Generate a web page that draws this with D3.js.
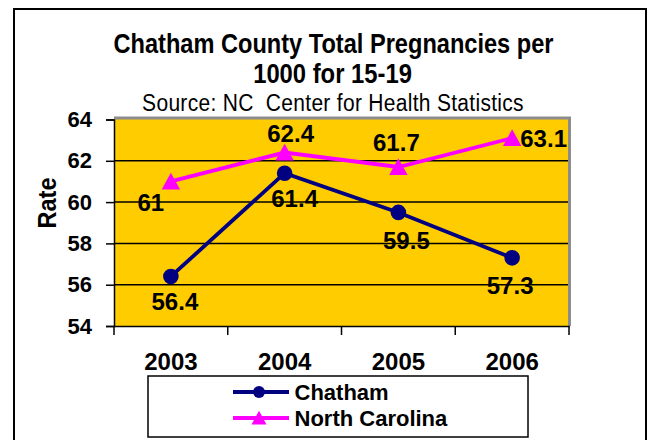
<!DOCTYPE html>
<html lang="en">
<head>
<meta charset="UTF-8">
<title>Chatham County Total Pregnancies</title>
<script src="https://cdn.jsdelivr.net/npm/d3@7"></script>
<style>
  body { margin: 0; background: #fff; }
  text { font-family: "Liberation Sans", Arial, sans-serif; }
</style>
</head>
<body>
<svg></svg>
<script>
    const years = ['2003', '2004', '2005', '2006'];
    const chatham = [56.4, 61.4, 59.5, 57.3];
    const northCarolina = [61, 62.4, 61.7, 63.1];
    const yTicks = [54, 56, 58, 60, 62, 64];

    const width = 651, height = 440;
    const plot = { left: 114, right: 569, top: 119.5, bottom: 326 };

    const svg = d3.select('svg')
        .attr('width', width)
        .attr('height', height);

    // outer chart border
    svg.append('rect')
        .attr('x', 14).attr('y', 9)
        .attr('width', 632).attr('height', 460)
        .attr('fill', '#fff')
        .attr('stroke', '#000')
        .attr('stroke-width', 2);

    // text that is a bit taller than the font (title + axis title look stretched)
    function tallText(x, y, str, size, weight, stretch, rotate) {
        return svg.append('text')
            .attr('transform', `translate(${x},${y}) rotate(${rotate || 0}) scale(1,${stretch})`)
            .attr('text-anchor', 'middle')
            .attr('font-size', size)
            .attr('font-weight', weight)
            .text(str);
    }

    tallText(333.5, 52.5, 'Chatham County Total Pregnancies per', 23.6, 'bold', 1.16);
    tallText(332.5, 82.5, '1000 for 15-19', 23.8, 'bold', 1.16);
    tallText(333, 110.5, 'Source: NC  Center for Health Statistics', 21, 'normal', 1.1)
        .attr('xml:space', 'preserve')
        .attr('letter-spacing', 0.3);

    const x = d3.scaleBand().domain(years).range([plot.left, plot.right]);
    const y = d3.scaleLinear().domain([54, 64]).range([plot.bottom, plot.top]);

    // plot area with grey edge on top/right
    svg.append('rect')
        .attr('x', plot.left).attr('y', plot.top - 3)
        .attr('width', plot.right - plot.left + 2).attr('height', plot.bottom - plot.top + 3)
        .attr('fill', '#8c8c8c');
    svg.append('rect')
        .attr('x', plot.left).attr('y', plot.top)
        .attr('width', plot.right - plot.left - 1).attr('height', plot.bottom - plot.top)
        .attr('fill', '#FFCC00');

    // gridlines
    svg.append('g')
        .selectAll('line')
        .data(yTicks.filter(d => d > 54 && d < 64))
        .join('line')
        .attr('x1', plot.left).attr('x2', plot.right - 1)
        .attr('y1', d => y(d)).attr('y2', d => y(d))
        .attr('stroke', '#000').attr('stroke-width', 1.5);

    // y axis
    const yAxis = svg.append('g')
        .attr('transform', `translate(${plot.left},0)`)
        .call(d3.axisLeft(y).tickValues(yTicks).tickSize(8).tickPadding(14));
    yAxis.select('.domain').attr('stroke-width', 1.5);
    yAxis.selectAll('line').attr('stroke-width', 1.5);
    yAxis.selectAll('text')
        .attr('font-size', 22).attr('font-weight', 'bold')
        .attr('font-family', '"Liberation Sans", Arial, sans-serif')
        .attr('fill', '#000');

    // x axis
    const xAxis = svg.append('g')
        .attr('transform', `translate(0,${plot.bottom})`)
        .call(d3.axisBottom(x).tickSize(0).tickPadding(27));
    xAxis.select('.domain').attr('stroke-width', 1.5);
    xAxis.selectAll('text')
        .attr('font-size', 24).attr('font-weight', 'bold')
        .attr('font-family', '"Liberation Sans", Arial, sans-serif')
        .attr('fill', '#000');
    // category boundary ticks
    svg.append('g')
        .selectAll('line')
        .data(years.concat(['end']))
        .join('line')
        .attr('x1', (d, i) => i < years.length ? x(d) : plot.right)
        .attr('x2', (d, i) => i < years.length ? x(d) : plot.right)
        .attr('y1', plot.bottom).attr('y2', plot.bottom + 9)
        .attr('stroke', '#000').attr('stroke-width', 1.5);

    tallText(56, 203, 'Rate', 23.5, 'bold', 1.1, -90);

    const cx = d => x(d) + x.bandwidth() / 2;
    const line = d3.line().x(d => cx(d.year)).y(d => y(d.value));

    const series = [
        { name: 'Chatham', color: '#000080', values: chatham, marker: 'circle' },
        { name: 'North Carolina', color: '#FF00FF', values: northCarolina, marker: 'triangle' }
    ];

    // marker path centred on its bounding box
    function markerPath(type, s) {
        if (type === 'circle') return d3.symbol().type(d3.symbolCircle).size(Math.PI * s * s)();
        return `M0,${-s * 1.1}L${s * 1.15},${s}L${-s * 1.15},${s}Z`;
    }

    series.forEach(s => {
        const pts = years.map((yr, i) => ({ year: yr, value: s.values[i] }));
        svg.append('path')
            .datum(pts)
            .attr('d', line)
            .attr('fill', 'none')
            .attr('stroke', s.color)
            .attr('stroke-width', 3.8);
        svg.append('g')
            .selectAll('path')
            .data(pts)
            .join('path')
            .attr('d', markerPath(s.marker, s.marker === 'circle' ? 7.8 : 8))
            .attr('transform', d => `translate(${cx(d.year)},${y(d.value)})`)
            .attr('fill', s.color);
    });

    // data labels
    const chathamOffsets = [[4, 34], [10, 34], [8, 37], [-2, 36]];
    const ncOffsets = [[-20, 30], [6, -11], [-2, -16], [31.5, 8.5]];
    svg.append('g')
        .selectAll('text')
        .data(chatham)
        .join('text')
        .attr('x', (d, i) => cx(years[i]) + chathamOffsets[i][0])
        .attr('y', (d, i) => y(d) + chathamOffsets[i][1])
        .attr('text-anchor', 'middle')
        .attr('font-size', 24).attr('font-weight', 'bold')
        .text(d => d);
    svg.append('g')
        .selectAll('text')
        .data(northCarolina)
        .join('text')
        .attr('x', (d, i) => cx(years[i]) + ncOffsets[i][0])
        .attr('y', (d, i) => y(d) + ncOffsets[i][1])
        .attr('text-anchor', 'middle')
        .attr('font-size', 24).attr('font-weight', 'bold')
        .text(d => d);

    // legend
    const legend = svg.append('g');
    legend.append('rect')
        .attr('x', 148).attr('y', 376)
        .attr('width', 380).attr('height', 61)
        .attr('fill', '#fff')
        .attr('stroke', '#000').attr('stroke-width', 1.5);
    series.forEach((s, i) => {
        const ly = 392 + i * 26;
        legend.append('line')
            .attr('x1', 233).attr('x2', 289)
            .attr('y1', ly).attr('y2', ly)
            .attr('stroke', s.color).attr('stroke-width', 3.8);
        legend.append('path')
            .attr('d', markerPath(s.marker, s.marker === 'circle' ? 6 : 6.5))
            .attr('transform', `translate(259,${ly})`)
            .attr('fill', s.color);
        legend.append('text')
            .attr('x', 294.5).attr('y', ly + 8)
            .attr('font-size', 22).attr('font-weight', 'bold')
            .text(s.name);
    });
</script>
</body>
</html>
